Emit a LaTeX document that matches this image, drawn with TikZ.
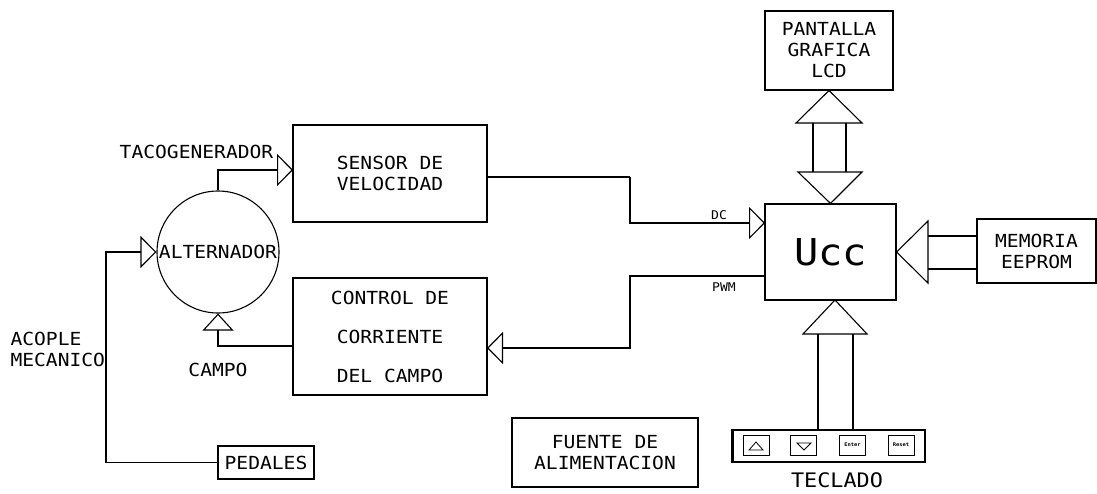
\documentclass[tikz,border=0pt]{standalone}
\usepackage{fontspec}
\newfontfamily\cad[FakeStretch=1.09]{DejaVu Sans Mono}
\usetikzlibrary{arrows.meta,calc}
\begin{document}
\begin{tikzpicture}[x=1pt,y=-1pt,line width=1.1pt,
  every node/.style={font=\cad\fontsize{18}{21}\selectfont,inner sep=0pt},
  blk/.style={draw,align=center},
  lbl/.style={},
  small/.style={font=\cad\fontsize{12}{14}\selectfont},
  keyb/.style={draw,line width=1pt,minimum width=26pt,minimum height=20pt},
  keyt/.style={font=\cad\bfseries\fontsize{5}{6}\selectfont},
  tri/.style={-{Triangle[open,length=16pt,width=32pt]}}]
\useasboundingbox (0,0) rectangle (1097,493);

% blocks
\node[blk,minimum width=194pt,minimum height=97pt] (sensor) at (390,173.5) {SENSOR DE\\VELOCIDAD};
\node[blk,minimum width=194pt,minimum height=117pt] (control) at (390,336.5) {CONTROL DE\\[18pt]CORRIENTE\\[18pt]DEL CAMPO};
\node[blk,minimum width=131pt,minimum height=96pt,font=\cad\fontsize{37}{40}\selectfont] (ucc) at (830.5,252) {\raisebox{-4pt}{Ucc}};
\node[blk,minimum width=128pt,minimum height=79pt] (pant) at (829,50.5) {PANTALLA\\GRAFICA\\LCD};
\node[blk,minimum width=119pt,minimum height=64pt] (mem) at (1036.5,251) {MEMORIA\\EEPROM};
\node[blk,minimum width=96pt,minimum height=33pt] (ped) at (266,462.5) {PEDALES};
\node[blk,minimum width=186pt,minimum height=69pt] (fuente) at (605,452.5) {FUENTE DE\\ALIMENTACION};
\node[draw,minimum width=192pt,minimum height=32pt] (kbd) at (829,446) {};
\node[draw,circle,minimum size=122pt] (alt) at (218,252) {ALTERNADOR};
\draw[line width=2pt] (kbd.south west) -- (kbd.north west);

% keys
\node[keyb] (k1) at (756,445) {};
\node[keyb] (k2) at (803.5,445) {};
\node[keyb] (k3) at (852.5,445) {};
\node[keyb] (k4) at (901,445) {};
\draw[line width=0.8pt] (749,450) -- (763,450) -- (756,442) -- cycle;
\draw[line width=0.8pt] (797,443) -- (811,443) -- (804,450) -- cycle;
\node[keyt] (k3t) at (k3) {Enter};
\node[keyt] (k4t) at (k4) {Reset};

% labels
\node[lbl] (taco) at (196.5,152) {TACOGENERADOR};
\node[lbl] (campo) at (218,370) {CAMPO};
\node[lbl,anchor=west,align=left] (acop) at (10,349.5) {ACOPLE\\MECANICO};
\node[lbl,font=\cad\fontsize{20}{22}\selectfont] (tecl) at (837,480) {TECLADO};
\node[small] (dc) at (719,215) {DC};
\node[small] (pwm) at (724,287) {PWM};

% coordinates
\coordinate (sin) at (293,170);
\coordinate (aco) at (106,252);
\coordinate (cw) at (293,346);
\coordinate (se) at (487,177);
\coordinate (bend1) at (630,177);
\coordinate (udc) at (765,223);
\coordinate (upwm) at (765,276);
\coordinate (bend2) at (630,276);
\coordinate (cin) at (487,348);

% connectors
\draw[tri] (alt.north) |- (sin);
\draw[tri] (ped.west) -| (aco) -- (alt.west);
\draw[-{Triangle[open,length=17pt,width=31pt]}] (cw) -| (alt.south);
\draw[line width=2pt] (se) -- (bend1);
\draw[tri] (bend1) |- (udc);
\draw[tri] (upwm) -- (bend2) |- (cin);

% pantalla double arrow
\draw (pant.south) -- (862,123) -- (796,123) -- cycle;
\draw (ucc.north) -- (862,172) -- (798,172) -- cycle;
\draw (813,123) -- (813,172) (846,123) -- (846,172);

% memoria arrow
\draw (ucc.east) -- (928,221) -- (928,283) -- cycle;
\draw (928,236) -- (mem.west |- 0,236);
\draw[line width=1.8pt] (928,269) -- (mem.west |- 0,269);

% keypad arrow
\draw (835,300) -- (867,334) -- (803,334) -- cycle;
\draw (818,334) -- (818,430) (853,334) -- (853,430);
\end{tikzpicture}
\end{document}
